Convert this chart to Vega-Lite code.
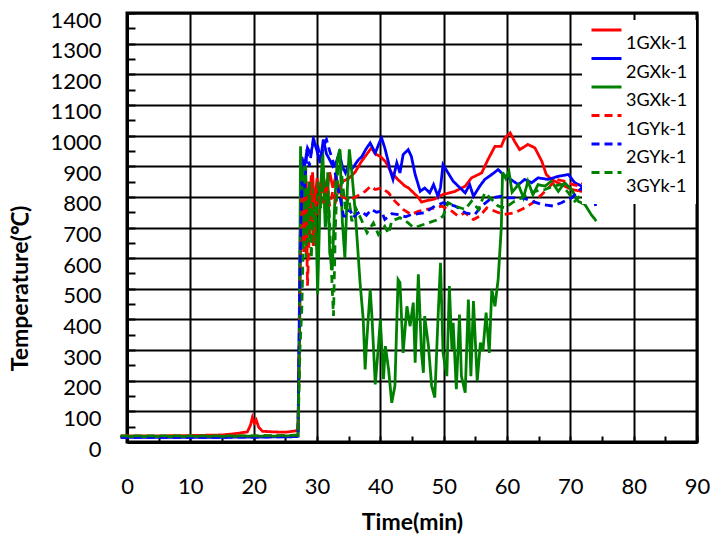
{
"$schema":"https://vega.github.io/schema/vega-lite/v6.json",
"width":570,"height":429,"autosize":{"type":"none"},
"padding":{"left":127,"top":13,"right":14,"bottom":99},
"background":"white",
"config":{"view":{"stroke":"black","strokeWidth":3},"font":"Lato"},
"datasets":{"d":[
{"s":"1GXk-1","t":-1,"v":20},{"s":"1GXk-1","t":0,"v":20},{"s":"1GXk-1","t":5,"v":20},{"s":"1GXk-1","t":10,"v":21},{"s":"1GXk-1","t":15,"v":23},{"s":"1GXk-1","t":17,"v":27},{"s":"1GXk-1","t":19,"v":33},{"s":"1GXk-1","t":19.5,"v":55},{"s":"1GXk-1","t":19.8,"v":80},{"s":"1GXk-1","t":20.1,"v":62},{"s":"1GXk-1","t":20.4,"v":72},{"s":"1GXk-1","t":20.8,"v":48},{"s":"1GXk-1","t":21.4,"v":35},{"s":"1GXk-1","t":23,"v":33},{"s":"1GXk-1","t":25,"v":32},{"s":"1GXk-1","t":26.6,"v":36},{"s":"1GXk-1","t":27,"v":42},{"s":"1GXk-1","t":27.3,"v":420},{"s":"1GXk-1","t":27.5,"v":880},{"s":"1GXk-1","t":27.8,"v":700},{"s":"1GXk-1","t":28.1,"v":900},{"s":"1GXk-1","t":28.4,"v":620},{"s":"1GXk-1","t":28.7,"v":850},{"s":"1GXk-1","t":29,"v":700},{"s":"1GXk-1","t":29.3,"v":880},{"s":"1GXk-1","t":29.6,"v":760},{"s":"1GXk-1","t":30,"v":860},{"s":"1GXk-1","t":30.5,"v":790},{"s":"1GXk-1","t":31,"v":870},{"s":"1GXk-1","t":31.5,"v":810},{"s":"1GXk-1","t":32,"v":880},{"s":"1GXk-1","t":32.5,"v":830},{"s":"1GXk-1","t":33,"v":870},{"s":"1GXk-1","t":33.5,"v":820},{"s":"1GXk-1","t":34,"v":850},{"s":"1GXk-1","t":35,"v":860},{"s":"1GXk-1","t":36,"v":880},{"s":"1GXk-1","t":37,"v":915},{"s":"1GXk-1","t":37.6,"v":932},{"s":"1GXk-1","t":38.6,"v":960},{"s":"1GXk-1","t":39.2,"v":940},{"s":"1GXk-1","t":40,"v":932},{"s":"1GXk-1","t":40.8,"v":915},{"s":"1GXk-1","t":41.8,"v":878},{"s":"1GXk-1","t":42.8,"v":856},{"s":"1GXk-1","t":43.9,"v":835},{"s":"1GXk-1","t":44.4,"v":830},{"s":"1GXk-1","t":46,"v":798},{"s":"1GXk-1","t":46.5,"v":783},{"s":"1GXk-1","t":47,"v":786},{"s":"1GXk-1","t":48.6,"v":793},{"s":"1GXk-1","t":49.9,"v":808},{"s":"1GXk-1","t":51.8,"v":818},{"s":"1GXk-1","t":53.4,"v":835},{"s":"1GXk-1","t":54.4,"v":862},{"s":"1GXk-1","t":56,"v":878},{"s":"1GXk-1","t":57,"v":922},{"s":"1GXk-1","t":58.1,"v":965},{"s":"1GXk-1","t":59.1,"v":965},{"s":"1GXk-1","t":59.6,"v":990},{"s":"1GXk-1","t":60.5,"v":1009},{"s":"1GXk-1","t":61.2,"v":981},{"s":"1GXk-1","t":62,"v":954},{"s":"1GXk-1","t":63.3,"v":971},{"s":"1GXk-1","t":64.4,"v":960},{"s":"1GXk-1","t":65.5,"v":916},{"s":"1GXk-1","t":66.2,"v":873},{"s":"1GXk-1","t":67,"v":857},{"s":"1GXk-1","t":68.6,"v":840},{"s":"1GXk-1","t":70.2,"v":824},{"s":"1GXk-1","t":71.8,"v":818},{"s":"1GXk-1","t":73.1,"v":829},{"s":"1GXk-1","t":73.6,"v":807},{"s":"1GXk-1","t":74,"v":815},
{"s":"2GXk-1","t":-1,"v":15},{"s":"2GXk-1","t":0,"v":15},{"s":"2GXk-1","t":10,"v":15},{"s":"2GXk-1","t":20,"v":16},{"s":"2GXk-1","t":26,"v":17},{"s":"2GXk-1","t":27,"v":19},{"s":"2GXk-1","t":27.3,"v":600},{"s":"2GXk-1","t":27.6,"v":930},{"s":"2GXk-1","t":28,"v":900},{"s":"2GXk-1","t":28.5,"v":960},{"s":"2GXk-1","t":29,"v":940},{"s":"2GXk-1","t":29.5,"v":985},{"s":"2GXk-1","t":30,"v":950},{"s":"2GXk-1","t":30.5,"v":910},{"s":"2GXk-1","t":31,"v":987},{"s":"2GXk-1","t":31.5,"v":940},{"s":"2GXk-1","t":32,"v":921},{"s":"2GXk-1","t":32.5,"v":900},{"s":"2GXk-1","t":33,"v":911},{"s":"2GXk-1","t":33.5,"v":943},{"s":"2GXk-1","t":34,"v":900},{"s":"2GXk-1","t":34.5,"v":878},{"s":"2GXk-1","t":35,"v":905},{"s":"2GXk-1","t":35.5,"v":890},{"s":"2GXk-1","t":36,"v":905},{"s":"2GXk-1","t":36.5,"v":920},{"s":"2GXk-1","t":37.1,"v":932},{"s":"2GXk-1","t":37.7,"v":955},{"s":"2GXk-1","t":38.4,"v":976},{"s":"2GXk-1","t":39.2,"v":943},{"s":"2GXk-1","t":39.8,"v":975},{"s":"2GXk-1","t":40.2,"v":992},{"s":"2GXk-1","t":40.7,"v":960},{"s":"2GXk-1","t":41.3,"v":911},{"s":"2GXk-1","t":41.5,"v":889},{"s":"2GXk-1","t":42,"v":857},{"s":"2GXk-1","t":42.6,"v":911},{"s":"2GXk-1","t":43.1,"v":878},{"s":"2GXk-1","t":43.6,"v":938},{"s":"2GXk-1","t":44.4,"v":954},{"s":"2GXk-1","t":44.9,"v":932},{"s":"2GXk-1","t":45.5,"v":873},{"s":"2GXk-1","t":46.3,"v":818},{"s":"2GXk-1","t":47,"v":829},{"s":"2GXk-1","t":47.8,"v":813},{"s":"2GXk-1","t":48.4,"v":840},{"s":"2GXk-1","t":49.1,"v":802},{"s":"2GXk-1","t":49.5,"v":830},{"s":"2GXk-1","t":49.9,"v":905},{"s":"2GXk-1","t":50.7,"v":878},{"s":"2GXk-1","t":51.5,"v":851},{"s":"2GXk-1","t":52.3,"v":835},{"s":"2GXk-1","t":53.4,"v":813},{"s":"2GXk-1","t":54.1,"v":840},{"s":"2GXk-1","t":54.7,"v":802},{"s":"2GXk-1","t":55.7,"v":835},{"s":"2GXk-1","t":56.5,"v":857},{"s":"2GXk-1","t":57.6,"v":873},{"s":"2GXk-1","t":58.6,"v":889},{"s":"2GXk-1","t":59.4,"v":873},{"s":"2GXk-1","t":60.2,"v":862},{"s":"2GXk-1","t":61.8,"v":840},{"s":"2GXk-1","t":62.8,"v":857},{"s":"2GXk-1","t":63.9,"v":846},{"s":"2GXk-1","t":64.9,"v":862},{"s":"2GXk-1","t":66.5,"v":857},{"s":"2GXk-1","t":68.1,"v":867},{"s":"2GXk-1","t":69.7,"v":873},{"s":"2GXk-1","t":70.7,"v":846},{"s":"2GXk-1","t":71.8,"v":835},{"s":"2GXk-1","t":73.1,"v":851},{"s":"2GXk-1","t":73.6,"v":818},{"s":"2GXk-1","t":74,"v":770},
{"s":"3GXk-1","t":-1,"v":18},{"s":"3GXk-1","t":0,"v":18},{"s":"3GXk-1","t":10,"v":18},{"s":"3GXk-1","t":20,"v":19},{"s":"3GXk-1","t":27,"v":20},{"s":"3GXk-1","t":27.2,"v":300},{"s":"3GXk-1","t":27.4,"v":965},{"s":"3GXk-1","t":27.7,"v":700},{"s":"3GXk-1","t":28,"v":900},{"s":"3GXk-1","t":28.3,"v":600},{"s":"3GXk-1","t":28.6,"v":820},{"s":"3GXk-1","t":28.9,"v":661},{"s":"3GXk-1","t":29.2,"v":850},{"s":"3GXk-1","t":29.5,"v":640},{"s":"3GXk-1","t":29.8,"v":760},{"s":"3GXk-1","t":30.1,"v":482},{"s":"3GXk-1","t":30.5,"v":800},{"s":"3GXk-1","t":30.9,"v":950},{"s":"3GXk-1","t":31.3,"v":700},{"s":"3GXk-1","t":31.7,"v":880},{"s":"3GXk-1","t":32,"v":620},{"s":"3GXk-1","t":32.4,"v":560},{"s":"3GXk-1","t":32.8,"v":780},{"s":"3GXk-1","t":33.2,"v":920},{"s":"3GXk-1","t":33.6,"v":955},{"s":"3GXk-1","t":34,"v":720},{"s":"3GXk-1","t":34.4,"v":600},{"s":"3GXk-1","t":34.8,"v":830},{"s":"3GXk-1","t":35.1,"v":955},{"s":"3GXk-1","t":35.5,"v":880},{"s":"3GXk-1","t":36,"v":760},{"s":"3GXk-1","t":36.3,"v":672},{"s":"3GXk-1","t":36.8,"v":520},{"s":"3GXk-1","t":37.3,"v":400},{"s":"3GXk-1","t":37.6,"v":237},{"s":"3GXk-1","t":37.8,"v":313},{"s":"3GXk-1","t":38.4,"v":498},{"s":"3GXk-1","t":38.7,"v":400},{"s":"3GXk-1","t":39.2,"v":188},{"s":"3GXk-1","t":39.7,"v":313},{"s":"3GXk-1","t":40,"v":400},{"s":"3GXk-1","t":40.5,"v":205},{"s":"3GXk-1","t":40.8,"v":313},{"s":"3GXk-1","t":41.3,"v":237},{"s":"3GXk-1","t":41.8,"v":128},{"s":"3GXk-1","t":42.3,"v":183},{"s":"3GXk-1","t":42.8,"v":530},{"s":"3GXk-1","t":43.1,"v":520},{"s":"3GXk-1","t":43.6,"v":291},{"s":"3GXk-1","t":44.2,"v":443},{"s":"3GXk-1","t":44.7,"v":378},{"s":"3GXk-1","t":45.2,"v":455},{"s":"3GXk-1","t":45.5,"v":259},{"s":"3GXk-1","t":46,"v":547},{"s":"3GXk-1","t":46.5,"v":291},{"s":"3GXk-1","t":46.8,"v":226},{"s":"3GXk-1","t":47,"v":411},{"s":"3GXk-1","t":47.6,"v":313},{"s":"3GXk-1","t":48.1,"v":183},{"s":"3GXk-1","t":48.6,"v":145},{"s":"3GXk-1","t":49.1,"v":400},{"s":"3GXk-1","t":49.5,"v":585},{"s":"3GXk-1","t":49.9,"v":291},{"s":"3GXk-1","t":50.5,"v":215},{"s":"3GXk-1","t":50.9,"v":509},{"s":"3GXk-1","t":51.3,"v":302},{"s":"3GXk-1","t":51.5,"v":389},{"s":"3GXk-1","t":52,"v":172},{"s":"3GXk-1","t":52.5,"v":416},{"s":"3GXk-1","t":52.8,"v":215},{"s":"3GXk-1","t":53.4,"v":161},{"s":"3GXk-1","t":53.9,"v":465},{"s":"3GXk-1","t":54.3,"v":215},{"s":"3GXk-1","t":54.7,"v":460},{"s":"3GXk-1","t":55.3,"v":199},{"s":"3GXk-1","t":55.8,"v":324},{"s":"3GXk-1","t":56.2,"v":297},{"s":"3GXk-1","t":56.7,"v":422},{"s":"3GXk-1","t":57.2,"v":291},{"s":"3GXk-1","t":57.6,"v":498},{"s":"3GXk-1","t":58.1,"v":443},{"s":"3GXk-1","t":58.6,"v":530},{"s":"3GXk-1","t":59.1,"v":700},{"s":"3GXk-1","t":59.3,"v":880},{"s":"3GXk-1","t":59.8,"v":860},{"s":"3GXk-1","t":60.3,"v":884},{"s":"3GXk-1","t":60.8,"v":815},{"s":"3GXk-1","t":61.8,"v":840},{"s":"3GXk-1","t":62.6,"v":797},{"s":"3GXk-1","t":63.3,"v":851},{"s":"3GXk-1","t":64.1,"v":807},{"s":"3GXk-1","t":64.9,"v":840},{"s":"3GXk-1","t":66,"v":835},{"s":"3GXk-1","t":67,"v":851},{"s":"3GXk-1","t":68.1,"v":818},{"s":"3GXk-1","t":69.1,"v":846},{"s":"3GXk-1","t":70.2,"v":824},{"s":"3GXk-1","t":71.2,"v":786},{"s":"3GXk-1","t":72.3,"v":775},{"s":"3GXk-1","t":73.3,"v":742},{"s":"3GXk-1","t":74.1,"v":721},
{"s":"1GYk-1","t":-1,"v":18},{"s":"1GYk-1","t":0,"v":18},{"s":"1GYk-1","t":10,"v":18},{"s":"1GYk-1","t":20,"v":19},{"s":"1GYk-1","t":27,"v":22},{"s":"1GYk-1","t":27.3,"v":450},{"s":"1GYk-1","t":27.6,"v":800},{"s":"1GYk-1","t":27.9,"v":620},{"s":"1GYk-1","t":28.2,"v":880},{"s":"1GYk-1","t":28.5,"v":510},{"s":"1GYk-1","t":28.8,"v":700},{"s":"1GYk-1","t":29.1,"v":870},{"s":"1GYk-1","t":29.4,"v":640},{"s":"1GYk-1","t":29.7,"v":820},{"s":"1GYk-1","t":30,"v":740},{"s":"1GYk-1","t":30.5,"v":850},{"s":"1GYk-1","t":31,"v":780},{"s":"1GYk-1","t":31.5,"v":840},{"s":"1GYk-1","t":32,"v":770},{"s":"1GYk-1","t":32.5,"v":820},{"s":"1GYk-1","t":33,"v":790},{"s":"1GYk-1","t":33.5,"v":830},{"s":"1GYk-1","t":34,"v":800},{"s":"1GYk-1","t":35,"v":790},{"s":"1GYk-1","t":36.3,"v":802},{"s":"1GYk-1","t":37.6,"v":818},{"s":"1GYk-1","t":38.5,"v":835},{"s":"1GYk-1","t":39.2,"v":824},{"s":"1GYk-1","t":40.2,"v":829},{"s":"1GYk-1","t":41.3,"v":813},{"s":"1GYk-1","t":42.3,"v":786},{"s":"1GYk-1","t":43.6,"v":759},{"s":"1GYk-1","t":44.9,"v":742},{"s":"1GYk-1","t":46,"v":753},{"s":"1GYk-1","t":47.3,"v":759},{"s":"1GYk-1","t":48.6,"v":764},{"s":"1GYk-1","t":49.7,"v":770},{"s":"1GYk-1","t":51.3,"v":753},{"s":"1GYk-1","t":52.3,"v":737},{"s":"1GYk-1","t":53.4,"v":748},{"s":"1GYk-1","t":54.7,"v":726},{"s":"1GYk-1","t":55.7,"v":737},{"s":"1GYk-1","t":56.8,"v":764},{"s":"1GYk-1","t":58.1,"v":753},{"s":"1GYk-1","t":59.4,"v":742},{"s":"1GYk-1","t":61.2,"v":748},{"s":"1GYk-1","t":62.8,"v":764},{"s":"1GYk-1","t":64.1,"v":781},{"s":"1GYk-1","t":65.5,"v":808},{"s":"1GYk-1","t":66.8,"v":835},{"s":"1GYk-1","t":67.8,"v":857},{"s":"1GYk-1","t":69.1,"v":851},{"s":"1GYk-1","t":70.4,"v":840},{"s":"1GYk-1","t":71.5,"v":835},{"s":"1GYk-1","t":72.8,"v":862},{"s":"1GYk-1","t":73.3,"v":884},{"s":"1GYk-1","t":73.7,"v":880},
{"s":"2GYk-1","t":-1,"v":15},{"s":"2GYk-1","t":0,"v":15},{"s":"2GYk-1","t":10,"v":15},{"s":"2GYk-1","t":20,"v":16},{"s":"2GYk-1","t":27,"v":18},{"s":"2GYk-1","t":27.3,"v":500},{"s":"2GYk-1","t":27.6,"v":850},{"s":"2GYk-1","t":28,"v":800},{"s":"2GYk-1","t":28.4,"v":954},{"s":"2GYk-1","t":28.8,"v":900},{"s":"2GYk-1","t":29.4,"v":987},{"s":"2GYk-1","t":30,"v":976},{"s":"2GYk-1","t":30.5,"v":930},{"s":"2GYk-1","t":31,"v":960},{"s":"2GYk-1","t":31.5,"v":987},{"s":"2GYk-1","t":32,"v":950},{"s":"2GYk-1","t":32.6,"v":911},{"s":"2GYk-1","t":33.1,"v":850},{"s":"2GYk-1","t":33.6,"v":802},{"s":"2GYk-1","t":34.2,"v":737},{"s":"2GYk-1","t":34.7,"v":737},{"s":"2GYk-1","t":35.2,"v":760},{"s":"2GYk-1","t":35.7,"v":732},{"s":"2GYk-1","t":36.3,"v":745},{"s":"2GYk-1","t":37,"v":753},{"s":"2GYk-1","t":37.8,"v":740},{"s":"2GYk-1","t":38.6,"v":759},{"s":"2GYk-1","t":39.4,"v":750},{"s":"2GYk-1","t":40.2,"v":753},{"s":"2GYk-1","t":40.7,"v":726},{"s":"2GYk-1","t":41.8,"v":745},{"s":"2GYk-1","t":42.8,"v":742},{"s":"2GYk-1","t":44,"v":735},{"s":"2GYk-1","t":44.9,"v":742},{"s":"2GYk-1","t":46,"v":745},{"s":"2GYk-1","t":47,"v":748},{"s":"2GYk-1","t":48.6,"v":770},{"s":"2GYk-1","t":49.9,"v":781},{"s":"2GYk-1","t":50.8,"v":775},{"s":"2GYk-1","t":51.8,"v":770},{"s":"2GYk-1","t":52.6,"v":760},{"s":"2GYk-1","t":53.4,"v":748},{"s":"2GYk-1","t":54.9,"v":742},{"s":"2GYk-1","t":56,"v":770},{"s":"2GYk-1","t":57.6,"v":797},{"s":"2GYk-1","t":59.1,"v":802},{"s":"2GYk-1","t":60.2,"v":797},{"s":"2GYk-1","t":61.8,"v":797},{"s":"2GYk-1","t":62.8,"v":795},{"s":"2GYk-1","t":63.9,"v":786},{"s":"2GYk-1","t":65.5,"v":775},{"s":"2GYk-1","t":67.3,"v":770},{"s":"2GYk-1","t":68.6,"v":781},{"s":"2GYk-1","t":70.2,"v":797},{"s":"2GYk-1","t":71.8,"v":829},{"s":"2GYk-1","t":72.8,"v":857},{"s":"2GYk-1","t":73.9,"v":873},
{"s":"3GYk-1","t":-1,"v":20},{"s":"3GYk-1","t":0,"v":20},{"s":"3GYk-1","t":10,"v":20},{"s":"3GYk-1","t":20,"v":20},{"s":"3GYk-1","t":27,"v":22},{"s":"3GYk-1","t":27.3,"v":300},{"s":"3GYk-1","t":27.6,"v":433},{"s":"3GYk-1","t":27.9,"v":700},{"s":"3GYk-1","t":28.2,"v":900},{"s":"3GYk-1","t":28.5,"v":650},{"s":"3GYk-1","t":28.8,"v":850},{"s":"3GYk-1","t":29.1,"v":600},{"s":"3GYk-1","t":29.4,"v":780},{"s":"3GYk-1","t":29.8,"v":700},{"s":"3GYk-1","t":30.2,"v":850},{"s":"3GYk-1","t":30.6,"v":760},{"s":"3GYk-1","t":31,"v":900},{"s":"3GYk-1","t":31.4,"v":700},{"s":"3GYk-1","t":31.8,"v":820},{"s":"3GYk-1","t":32.2,"v":600},{"s":"3GYk-1","t":32.6,"v":411},{"s":"3GYk-1","t":32.9,"v":700},{"s":"3GYk-1","t":33.3,"v":900},{"s":"3GYk-1","t":33.6,"v":954},{"s":"3GYk-1","t":34,"v":850},{"s":"3GYk-1","t":34.5,"v":760},{"s":"3GYk-1","t":35,"v":800},{"s":"3GYk-1","t":35.5,"v":720},{"s":"3GYk-1","t":36.2,"v":760},{"s":"3GYk-1","t":37,"v":726},{"s":"3GYk-1","t":37.9,"v":683},{"s":"3GYk-1","t":38.9,"v":715},{"s":"3GYk-1","t":39.7,"v":677},{"s":"3GYk-1","t":40.7,"v":704},{"s":"3GYk-1","t":41.3,"v":680},{"s":"3GYk-1","t":41.8,"v":721},{"s":"3GYk-1","t":43.1,"v":732},{"s":"3GYk-1","t":44.4,"v":715},{"s":"3GYk-1","t":45.2,"v":700},{"s":"3GYk-1","t":46,"v":704},{"s":"3GYk-1","t":47.6,"v":715},{"s":"3GYk-1","t":49.1,"v":726},{"s":"3GYk-1","t":49.9,"v":737},{"s":"3GYk-1","t":50.7,"v":781},{"s":"3GYk-1","t":51.8,"v":770},{"s":"3GYk-1","t":53.4,"v":759},{"s":"3GYk-1","t":54.4,"v":786},{"s":"3GYk-1","t":55.5,"v":759},{"s":"3GYk-1","t":56.5,"v":813},{"s":"3GYk-1","t":57.6,"v":791},{"s":"3GYk-1","t":58.6,"v":770},{"s":"3GYk-1","t":59.7,"v":764},{"s":"3GYk-1","t":61.2,"v":786},{"s":"3GYk-1","t":62.8,"v":802},{"s":"3GYk-1","t":64.4,"v":818},{"s":"3GYk-1","t":66,"v":824},{"s":"3GYk-1","t":67.3,"v":835},{"s":"3GYk-1","t":68.6,"v":840},{"s":"3GYk-1","t":69.7,"v":813},{"s":"3GYk-1","t":70.7,"v":786},{"s":"3GYk-1","t":71.8,"v":808},{"s":"3GYk-1","t":72.8,"v":797},{"s":"3GYk-1","t":73.9,"v":786}
]},
"data":{"name":"d"},
"mark":{"type":"line","strokeWidth":2.8,"clip":false},
"encoding":{
"x":{"field":"t","type":"quantitative","scale":{"domain":[0,90],"nice":false,"zero":false},
 "axis":{"values":[0,5,10,15,20,25,30,35,40,45,50,55,60,65,70,75,80,85,90],
 "labelExpr":"datum.value % 10 == 0 ? datum.label : ''",
 "gridOpacity":{"condition":{"test":"datum.value % 10 != 0","value":0},"value":1},
 "grid":true,"gridColor":"black","gridWidth":2,"domainColor":"black","domainWidth":3,
 "tickColor":"black","tickWidth":2,"tickSize":-6,
 "labelFont":"Lato","labelFontSize":22,"labelColor":"black","labelPadding":40,"labelFlush":false,"labelOverlap":false,
 "title":"Time(min)","titleFont":"Lato","titleFontSize":23,"titleFontWeight":"bold","titleColor":"black","titleY":87,"titleBaseline":"alphabetic"}},
"y":{"field":"v","type":"quantitative","scale":{"domain":[0,1400],"nice":false},
 "axis":{"values":[0,50,100,150,200,250,300,350,400,450,500,550,600,650,700,750,800,850,900,950,1000,1050,1100,1150,1200,1250,1300,1350,1400],
 "labelExpr":"datum.value % 100 == 0 ? datum.label : ''",
 "format":"d",
 "gridOpacity":{"condition":{"test":"datum.value % 100 != 0","value":0},"value":1},
 "grid":true,"gridColor":"black","gridWidth":2,"domainColor":"black","domainWidth":3,
 "tickColor":"black","tickWidth":2,"tickSize":-8,
 "labelFont":"Lato","labelFontSize":22,"labelColor":"black","labelPadding":34,"labelOffset":7,"labelFlush":false,"labelOverlap":false,
 "title":"Temperature(℃)","titleFont":"Lato","titleFontSize":23,"titleFontWeight":"bold","titleColor":"black","titleX":-95,"titleY":275,"titleAngle":-90,"titleBaseline":"bottom","titleAlign":"center"}},
"color":{"field":"s","type":"nominal","scale":{"domain":["1GXk-1","2GXk-1","3GXk-1","1GYk-1","2GYk-1","3GYk-1"],"range":["#ff0000","#0000ff","#008000","#ff0000","#0000ff","#008000"]},
 "legend":{"title":null,"orient":"none","legendX":455,"legendY":7,"fillColor":"white","padding":8,"symbolType":"stroke","symbolSize":900,"symbolStrokeWidth":2.8,"labelFont":"Lato","labelFontSize":18,"labelColor":"black","labelOffset":3,"labelBaseline":"alphabetic","rowPadding":3.5,"clipHeight":22,"encode":{"symbols":{"update":{"y":{"value":2}}},"labels":{"update":{"y":{"value":21}}}}}},
"strokeDash":{"field":"s","type":"nominal","scale":{"domain":["1GXk-1","2GXk-1","3GXk-1","1GYk-1","2GYk-1","3GYk-1"],"range":[[1,0],[1,0],[1,0],[8,5],[8,5],[8,5]]},
 "legend":{"title":null,"orient":"none","legendX":455,"legendY":7,"fillColor":"white","padding":8,"symbolType":"stroke","symbolSize":900,"symbolStrokeWidth":2.8,"labelFont":"Lato","labelFontSize":18,"labelColor":"black","labelOffset":3,"labelBaseline":"alphabetic","rowPadding":3.5,"clipHeight":22,"encode":{"symbols":{"update":{"y":{"value":2}}},"labels":{"update":{"y":{"value":21}}}}}}
}
}
